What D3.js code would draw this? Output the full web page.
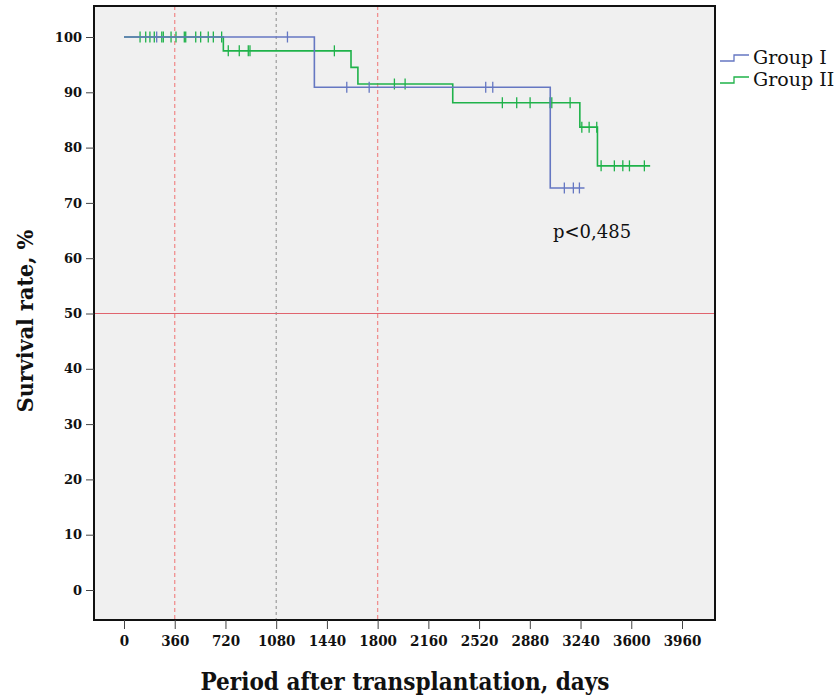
<!DOCTYPE html>
<html>
<head>
<meta charset="utf-8">
<script src="https://cdn.jsdelivr.net/npm/d3@7"></script>
<style>
  html, body { margin: 0; padding: 0; background: #ffffff; }
  svg { display: block; }
</style>
</head>
<body>
<svg id="chart" width="839" height="695"></svg>
<script>
// ---- data ----
const xTicks = [0, 360, 720, 1080, 1440, 1800, 2160, 2520, 2880, 3240, 3600, 3960];
const yTicks = [0, 10, 20, 30, 40, 50, 60, 70, 80, 90, 100];

const groupNames = ["Group I", "Group II"];

// Group I: step change times, survival values, end time, censored times
const g1Times = [0, 1351, 3025];
const g1Values = [100, 90.9, 72.7];
const g1End = 3268;
const g1Censored = [232, 1160, 1581, 1740, 2567, 2617, 3125, 3189, 3232];

// Group II
const g2Times = [0, 705, 1611, 1660, 2333, 3235, 3360];
const g2Values = [100, 97.5, 94.5, 91.5, 88.1, 83.7, 76.7];
const g2End = 3734;
const g2Censored = [114, 154, 184, 215, 268, 279, 334, 369, 428, 438, 509, 544, 598, 634, 693,
  740, 818, 882, 894, 1493, 1919, 1995, 2685, 2787, 2882, 3024, 3036, 3166,
  3249, 3301, 3355, 3386, 3480, 3540, 3587, 3693];

const refDaysRed = [360, 1800];
const refDaysGrey = [1080];
const refSurvival = 50;
const pText = "p<0,485";
const xTitle = "Period after transplantation, days";
const yTitle = "Survival rate, %";

// ---- layout ----
const frame = { left: 94, right: 715, top: 6, bottom: 620 };
const colors = ["#6577c2", "#1fb24a"];

const svg = d3.select("#chart");
const x = d3.scaleLinear().domain([0, 3960]).range([124, 682]);
const y = d3.scaleLinear().domain([0, 100]).range([590, 37]);

// plot background
svg.append("rect")
  .attr("x", frame.left).attr("y", frame.top)
  .attr("width", frame.right - frame.left).attr("height", frame.bottom - frame.top)
  .attr("fill", "#f0f0f0");

// reference lines
svg.selectAll(".refRed").data(refDaysRed).enter().append("line")
  .attr("x1", d => x(d)).attr("x2", d => x(d))
  .attr("y1", frame.top).attr("y2", frame.bottom)
  .attr("stroke", "#f08f8f").attr("stroke-width", 1.3).attr("stroke-dasharray", "4,3");
svg.selectAll(".refGrey").data(refDaysGrey).enter().append("line")
  .attr("x1", d => x(d)).attr("x2", d => x(d))
  .attr("y1", frame.top).attr("y2", frame.bottom)
  .attr("stroke", "#8a8a8a").attr("stroke-width", 1).attr("stroke-dasharray", "3,3");
svg.append("line")
  .attr("x1", frame.left).attr("x2", frame.right)
  .attr("y1", y(refSurvival)).attr("y2", y(refSurvival))
  .attr("stroke", "#e0646e").attr("stroke-width", 1);

// survival curves
function stepPoints(times, values, end) {
  const pts = [];
  for (let i = 0; i < times.length; i++) {
    if (i > 0) pts.push([times[i], values[i - 1]]);
    pts.push([times[i], values[i]]);
  }
  pts.push([end, values[values.length - 1]]);
  return pts;
}
function valueAt(times, values, t) {
  let v = values[0];
  for (let i = 0; i < times.length; i++) if (t >= times[i]) v = values[i];
  return v;
}
const groups = [
  { times: g1Times, values: g1Values, end: g1End, cens: g1Censored, color: colors[0] },
  { times: g2Times, values: g2Values, end: g2End, cens: g2Censored, color: colors[1] }
];
const line = d3.line().x(d => x(d[0])).y(d => y(d[1]));
[groups[1], groups[0]].forEach(g => {
  svg.append("path")
    .attr("d", line(stepPoints(g.times, g.values, g.end)))
    .attr("fill", "none").attr("stroke", g.color).attr("stroke-width", 1.6);
  svg.selectAll(null).data(g.cens).enter().append("line")
    .attr("x1", d => x(d)).attr("x2", d => x(d))
    .attr("y1", d => y(valueAt(g.times, g.values, d)) - 5.5)
    .attr("y2", d => y(valueAt(g.times, g.values, d)) + 5.5)
    .attr("stroke", g.color).attr("stroke-width", 1.3);
});

// frame
svg.append("rect")
  .attr("x", frame.left).attr("y", frame.top)
  .attr("width", frame.right - frame.left).attr("height", frame.bottom - frame.top)
  .attr("fill", "none").attr("stroke", "#111").attr("stroke-width", 2);

// axes
const xAxis = svg.append("g").attr("transform", `translate(0,${frame.bottom})`)
  .call(d3.axisBottom(x).tickValues(xTicks).tickSize(9).tickPadding(6).tickFormat(d3.format("d")));
xAxis.select(".domain").remove();
xAxis.selectAll(".tick line").attr("stroke", "#444");
xAxis.selectAll("text")
  .attr("font-family", "'DejaVu Serif Condensed', 'DejaVu Serif', serif")
  .attr("font-stretch", "condensed")
  .attr("font-weight", "bold").attr("font-size", 15).attr("fill", "#111");

const yAxis = svg.append("g").attr("transform", `translate(${frame.left},0)`)
  .call(d3.axisLeft(y).tickValues(yTicks).tickSize(8).tickPadding(4));
yAxis.select(".domain").remove();
yAxis.selectAll(".tick line").attr("stroke", "#444");
yAxis.selectAll("text")
  .attr("font-family", "'DejaVu Serif', serif")
  .attr("font-weight", "bold").attr("font-size", 13).attr("fill", "#111");

// titles
svg.append("text")
  .attr("x", 405).attr("y", 690)
  .attr("text-anchor", "middle")
  .attr("font-family", "'DejaVu Serif Condensed', 'DejaVu Serif', serif")
  .attr("font-stretch", "condensed")
  .attr("font-weight", "bold").attr("font-size", 24).attr("fill", "#111")
  .text(xTitle);
svg.append("text")
  .attr("transform", "translate(33,321) rotate(-90)")
  .attr("text-anchor", "middle")
  .attr("font-family", "'DejaVu Serif Condensed', 'DejaVu Serif', serif")
  .attr("font-stretch", "condensed")
  .attr("font-weight", "bold").attr("font-size", 23).attr("fill", "#111")
  .text(yTitle);

// p-value
svg.append("text")
  .attr("x", 553).attr("y", 238)
  .attr("font-family", "'DejaVu Serif', serif")
  .attr("font-size", 18).attr("fill", "#111")
  .text(pText);

// legend
groupNames.forEach((name, i) => {
  const cy = 58 + i * 22;
  svg.append("path")
    .attr("d", `M720,${cy + 3}H734V${cy - 3}H749`)
    .attr("fill", "none").attr("stroke", colors[i]).attr("stroke-width", 1.3);
  svg.append("text")
    .attr("x", 753).attr("y", cy + 6)
    .attr("font-family", "'DejaVu Serif', serif")
    .attr("font-size", 19).attr("fill", "#111")
    .text(name);
});
</script>
</body>
</html>
